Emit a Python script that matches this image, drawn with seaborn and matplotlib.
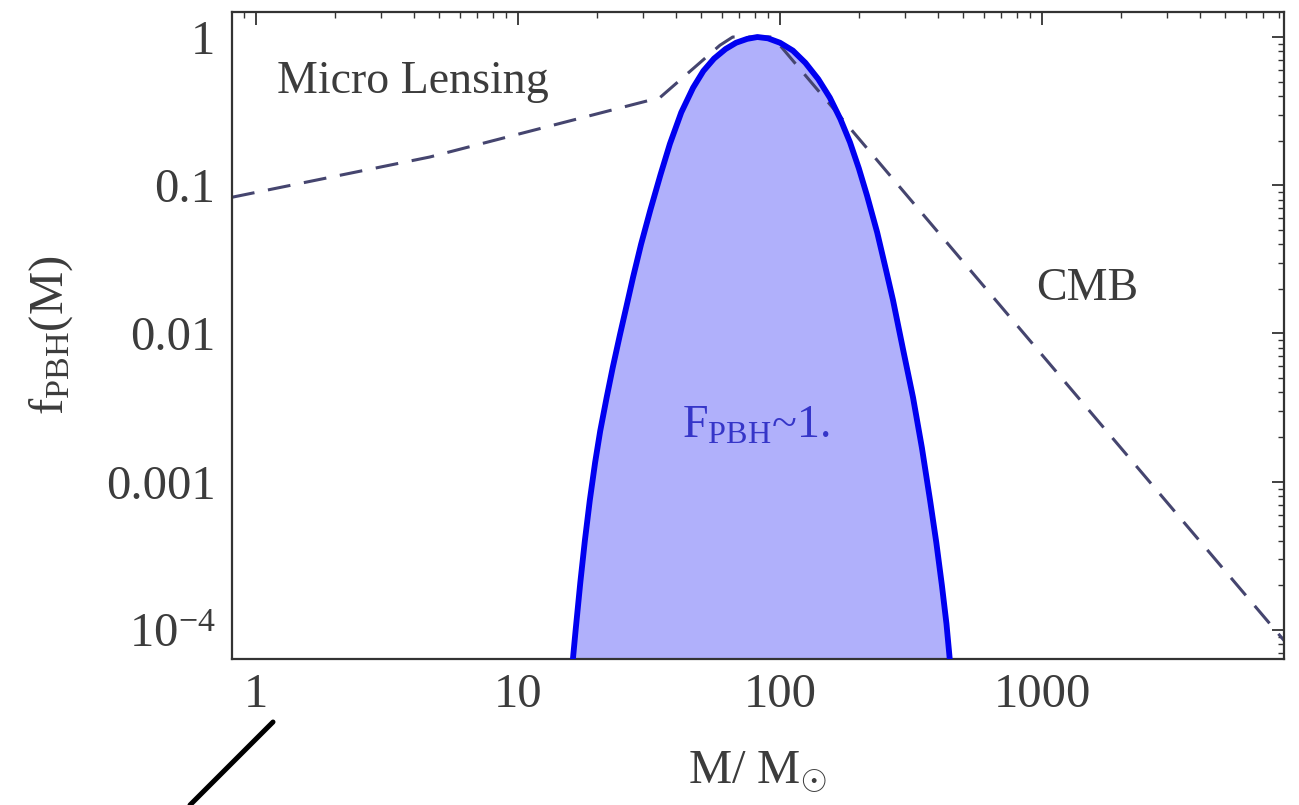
import matplotlib
matplotlib.use("Agg")
import matplotlib.pyplot as plt
import seaborn as sns
import pandas as pd
from matplotlib.lines import Line2D
from matplotlib.ticker import FixedLocator, FixedFormatter, NullFormatter, LogLocator

# ---- data ----
# combined Micro-Lensing / CMB upper bound (dashed)
bound_mass = [0.81, 4.6, 34.8, 59, 66, 94, 287, 8390]
bound_f = [0.083, 0.155, 0.39, 0.88, 1.0, 1.0, 0.097, 8.5e-5]

# PBH mass function (blue filled curve)
pbh_mass = [16.0, 16.6, 17.3, 18.0, 18.8, 19.7, 20.6, 21.8, 23.0, 24.5, 26.0, 27.5,
            29.5, 32.0, 35.0, 38.0, 42.0, 46.6, 51.0, 56.0, 62.0, 68.0, 75.0,
            82.0, 90, 100, 112, 125, 140, 155, 170, 185, 200, 215, 235, 255, 270,
            295, 322, 348, 374, 395, 415, 432, 448]
pbh_f = [5.0e-5, 1.0e-4, 2.1e-4, 4.0e-4, 7.5e-4, 1.35e-3, 2.2e-3, 3.7e-3, 5.9e-3,
         0.0098, 0.0155, 0.024, 0.040, 0.068, 0.118, 0.19, 0.31, 0.455, 0.59, 0.715,
         0.83, 0.915, 0.972, 1.0, 0.98, 0.915, 0.81, 0.67, 0.52, 0.39, 0.28, 0.195,
         0.13, 0.085, 0.048, 0.026, 0.0168, 0.0078, 0.0037, 0.0017, 7.5e-4, 3.9e-4,
         2.0e-4, 1.1e-4, 5.5e-5]

x_ticks = [1, 10, 100, 1000]
x_ticklabels = ["1", "10", "100", "1000"]
y_ticks = [1e-4, 1e-3, 1e-2, 1e-1, 1]
y_ticklabels = [r"$\mathregular{10^{-4}}$", "0.001", "0.01", "0.1", "1"]

sns.set_theme(style="white")
plt.rcParams["font.family"] = ["Liberation Serif", "DejaVu Serif"]
plt.rcParams["mathtext.fontset"] = "custom"
plt.rcParams["mathtext.rm"] = "Liberation Serif"
plt.rcParams["mathtext.it"] = "Liberation Serif:italic"
plt.rcParams["mathtext.bf"] = "Liberation Serif:bold"

TXT = "#3c3c3c"
fig = plt.figure(figsize=(12.99, 8.05), dpi=100)
ax = fig.add_axes([232 / 1299, 1 - 659 / 805, (1284 - 232) / 1299, (659 - 12) / 805])
ax.set_xscale("log")
ax.set_yscale("log")

df_pbh = pd.DataFrame({"M": pbh_mass, "f": pbh_f})
df_bound = pd.DataFrame({"M": bound_mass, "f": bound_f})

ax.fill_between(df_pbh["M"], df_pbh["f"], 1e-7, color="#b0b0fb", lw=0, zorder=1)
sns.lineplot(data=df_bound, x="M", y="f", ax=ax, color="#45456f", lw=2.2,
             estimator=None, sort=False, zorder=2)
ax.lines[-1].set_dashes((7.5, 4.5))
sns.lineplot(data=df_pbh, x="M", y="f", ax=ax, color="#0000f0", lw=4.2,
             estimator=None, sort=False, zorder=3)
ax.lines[-1].set_solid_joinstyle("round")

ax.set_xlim(0.81, 8390)
ax.set_ylim(6.37e-5, 1.475)

ax.xaxis.set_major_locator(FixedLocator(x_ticks))
ax.xaxis.set_major_formatter(FixedFormatter(x_ticklabels))
ax.yaxis.set_major_locator(FixedLocator(y_ticks))
ax.yaxis.set_major_formatter(FixedFormatter(y_ticklabels))
ax.xaxis.set_minor_formatter(NullFormatter())
ax.yaxis.set_minor_formatter(NullFormatter())
ax.xaxis.set_minor_locator(LogLocator(base=10, subs=range(2, 10), numticks=20))
ax.yaxis.set_minor_locator(LogLocator(base=10, subs=range(2, 10), numticks=20))

ax.tick_params(which="both", direction="in", top=True, right=True, color="#333333",
               labelcolor=TXT, labelsize=35)
ax.tick_params(which="major", length=9, width=1.3)
ax.tick_params(which="minor", length=4.5, width=1.0)
ax.tick_params(axis="x", which="major", pad=10)
ax.tick_params(axis="y", which="major", pad=12)

for s in ax.spines.values():
    s.set_color("#333333")
    s.set_linewidth(1.6)
    s.set_visible(True)

ax.set_xlabel(r"M/ M$_{\odot}$", fontsize=35, color=TXT, labelpad=24)
ax.set_ylabel(r"$\mathregular{f_{PBH}(M)}$", fontsize=35, color=TXT, labelpad=22)
ax.grid(False)

ax.text(1.2, 0.419, "Micro Lensing", fontsize=33, color=TXT, ha="left", va="baseline")
ax.text(1486, 0.0168, "CMB", fontsize=33, color=TXT, ha="center", va="baseline")
ax.text(81, 0.00197, r"$\mathregular{F_{PBH}}$~1.", fontsize=33, color="#3535c8",
        ha="center", va="baseline")

fig.add_artist(Line2D([190 / 1299, 273 / 1299], [1 - 805 / 805, 1 - 722 / 805],
                      color="black", lw=3.6, transform=fig.transFigure))

fig.savefig("out.png", dpi=100)
